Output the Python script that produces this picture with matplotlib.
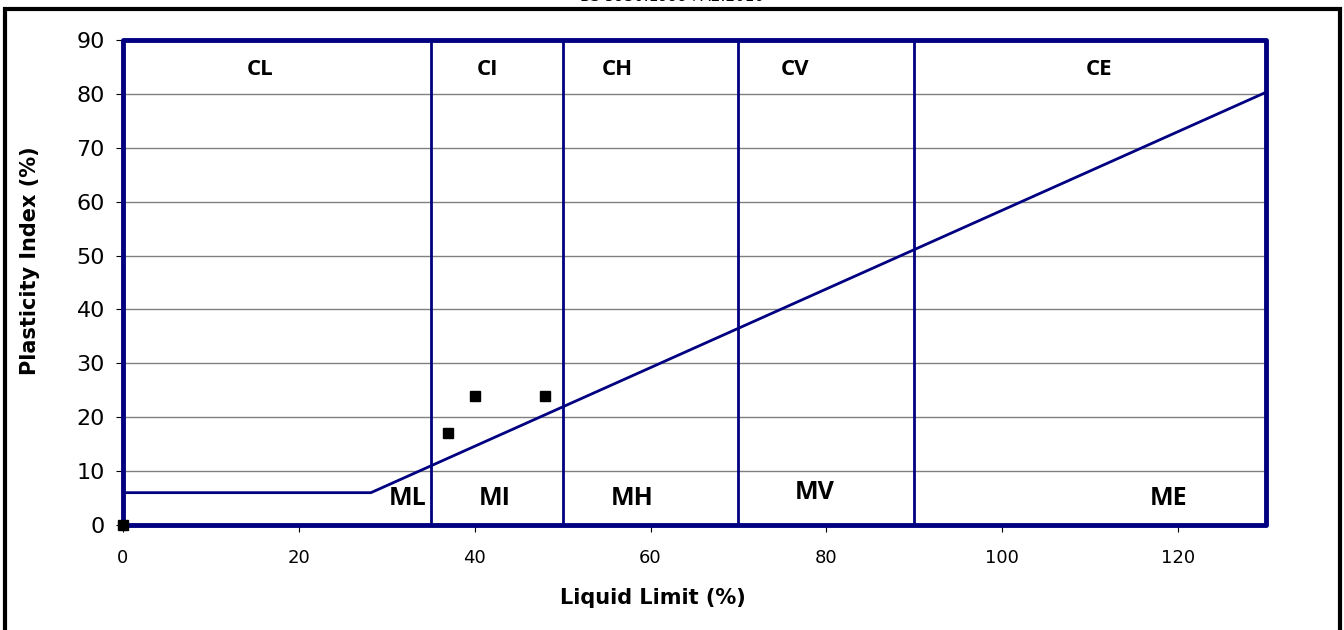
import matplotlib.pyplot as plt
from matplotlib.patches import Rectangle

# zone boundaries on the liquid limit axis
ll_bounds = [35, 50, 70, 90]

# A-line: PI = 0.73 (LL - 20), flat at 6 below LL ~ 28
aline_ll = [0, 28.2, 130]
aline_pi = [6, 6, 80.3]

# box round the chart area
box_ll = [0, 0, 130, 130, 0]
box_pi = [0, 90, 90, 0, 0]

# test results
sample_ll = [0, 37, 40, 48]
sample_pi = [0, 17, 24, 24]

upper_labels = ['CL', 'CI', 'CH', 'CV', 'CE']
upper_x = [15.6, 41.5, 56.2, 76.4, 111]
lower_labels = ['ML', 'MI', 'MH', 'MV', 'ME']
lower_x = [32.4, 42.3, 57.9, 78.7, 118.9]
lower_y = [5, 5, 5, 6, 5]

navy = '#000080'

fig = plt.figure(figsize=(13.44, 6.3), dpi=100)
ax = fig.add_axes([123 / 1344, 1 - 525 / 630, 1143 / 1344, 485 / 630])

for y in range(10, 90, 10):
    ax.axhline(y, color='#808080', lw=1, zorder=1)

for x in ll_bounds:
    ax.plot([x, x], [0, 90], color=navy, lw=2, zorder=2)
ax.plot(aline_ll, aline_pi, color=navy, lw=2, zorder=2)
ax.plot(box_ll, box_pi, color=navy, lw=3.5, zorder=3, clip_on=False)
ax.plot(sample_ll, sample_pi, 's', color='black', ms=7, zorder=4, clip_on=False)

for lab, x in zip(upper_labels, upper_x):
    ax.text(x, 84.5, lab, ha='center', va='center', fontsize=16,
            fontweight='bold', family='Open Sans')
for lab, x, y in zip(lower_labels, lower_x, lower_y):
    ax.text(x, y, lab, ha='center', va='center', fontsize=18,
            fontweight='bold', family='Open Sans')

ax.set_xlim(0, 130)
ax.set_ylim(0, 90)
ax.set_xticks(range(0, 121, 20))
ax.set_yticks(range(0, 91, 10))
ax.tick_params(axis='x', labelsize=13, length=5, direction='out', pad=12)
ax.tick_params(axis='y', labelsize=16, length=5, direction='out', pad=8)
for s in ax.spines.values():
    s.set_color('black')
    s.set_linewidth(1)

fig.text(653 / 1344, 1 - 598 / 630, 'Liquid Limit (%)', ha='center',
         va='center', fontsize=15, fontweight='bold')
fig.text(30 / 1344, 1 - 261 / 630, 'Plasticity Index (%)', ha='center',
         va='center', rotation=90, fontsize=15, fontweight='bold')

# outer frame and cut-off heading
fig.patches.append(Rectangle((5 / 1344, -0.05), 1335 / 1344, 1.05 - 9 / 630,
                             transform=fig.transFigure, fill=False,
                             edgecolor='black', lw=3))
fig.text(0.5, 1 - 4 / 630, 'BS 5930:1999+A2:2010', ha='center', va='bottom',
         fontsize=11)

fig.savefig('out.png', dpi=100)
